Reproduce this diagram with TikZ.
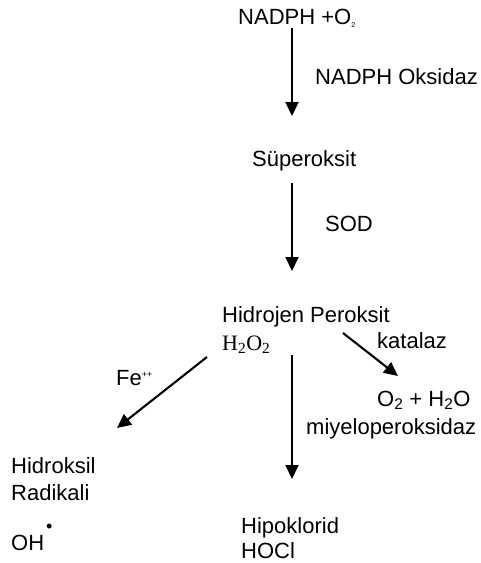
\documentclass[tikz,border=0pt]{standalone}
\usepackage{fontspec}
\setmainfont{Liberation Sans}
\newfontfamily\serifrm{Liberation Serif}
\usetikzlibrary{arrows.meta}
\begin{document}
\begin{tikzpicture}[x=1pt,y=-1pt,
  lbl/.style={anchor=base west,inner sep=0pt,font=\fontsize{22}{26}\selectfont},
  arr/.style={line width=2.1pt,-{Triangle[width=13pt,length=14pt]}}]
\useasboundingbox (0,0) rectangle (481,563);
\node[lbl] (nadph) at (238,24) {NADPH +O\raisebox{-0.3ex}{\fontsize{7}{8}\selectfont 2}};
\node[lbl] (nox) at (315,84) {NADPH Oksidaz};
\node[lbl] (sup) at (252,166) {Süperoksit};
\node[lbl] (sod) at (325,231) {SOD};
\node[lbl] (hp) at (222,322) {Hidrojen Peroksit};
\node[lbl,font=\serifrm\fontsize{22}{26}\selectfont] (h2o2) at (222,350) {H\textsubscript{2}O\textsubscript{2}};
\node[lbl] (kat) at (377,348) {katalaz};
\node[lbl] (fe) at (116,385) {Fe\textsuperscript{\fontsize{9}{10}\selectfont ++}};
\node[lbl] (o2h2o) at (377,406) {O\textsubscript{2} + H\textsubscript{2}O};
\node[lbl] (mpo) at (306,434) {miyeloperoksidaz};
\node[lbl] (hid) at (11,473) {Hidroksil};
\node[lbl] (rad) at (11,500) {Radikali};
\node[lbl] (oh) at (11,550) {OH};
\node[lbl,font=\fontsize{18}{20}\selectfont] (dot) at (46,532) {\textbullet};
\node[lbl] (hipo) at (241,533) {Hipoklorid};
\node[lbl] (hocl) at (241,558) {HOCl};
\coordinate (a1s) at (292,28);
\coordinate (a1e) at (292,116);
\coordinate (a2s) at (292,183);
\coordinate (a2e) at (292,271);
\coordinate (a3s) at (292,355);
\coordinate (a3e) at (292,479);
\coordinate (a4s) at (207,357);
\coordinate (a4e) at (117,428);
\coordinate (a5s) at (343,333);
\coordinate (a5e) at (398,376);
\draw[arr] (a1s) -- (a1e);
\draw[arr] (a2s) -- (a2e);
\draw[arr] (a3s) -- (a3e);
\draw[arr] (a4s) -- (a4e);
\draw[arr] (a5s) -- (a5e);
\end{tikzpicture}
\end{document}
